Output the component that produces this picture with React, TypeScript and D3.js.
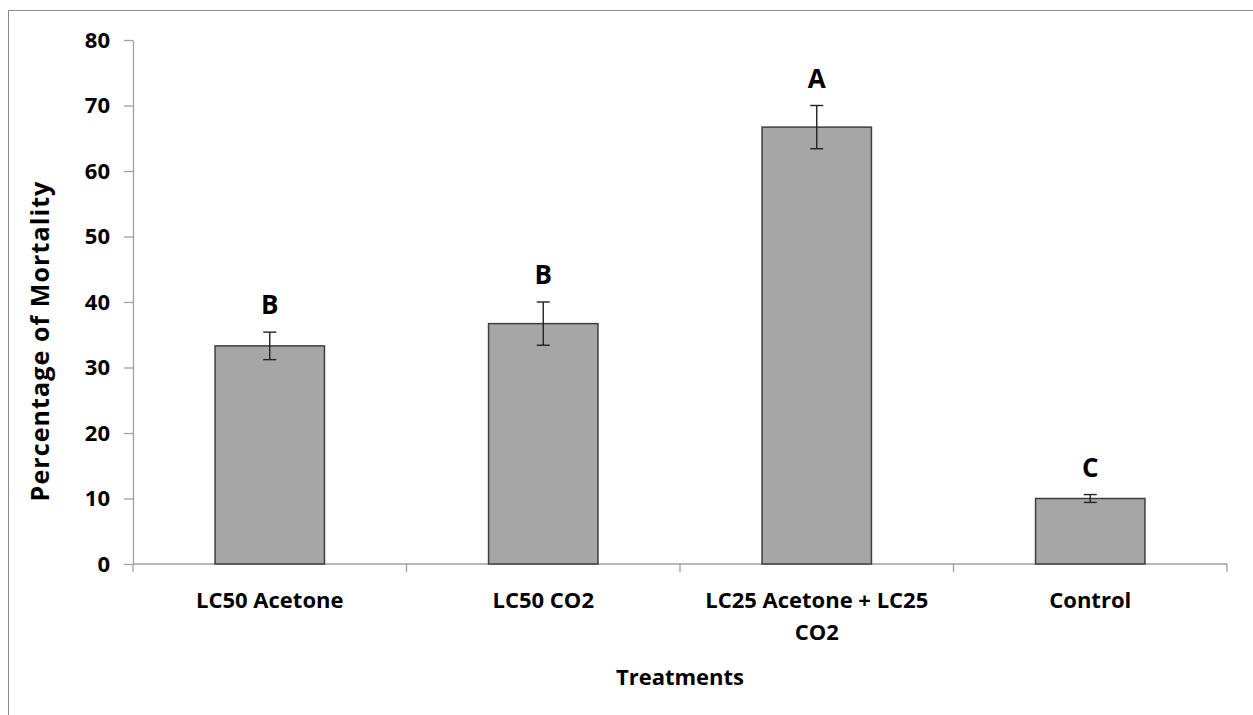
import React, { useEffect, useRef } from 'react';
import * as d3 from 'd3';

// values
const categories = ['LC50 Acetone', 'LC50 CO2', 'LC25 Acetone + LC25 CO2', 'Control'];
const categoryLines = [['LC50 Acetone'], ['LC50 CO2'], ['LC25 Acetone + LC25', 'CO2'], ['Control']];
const mortality = [33.3, 36.7, 66.7, 10.0];
const errors = [2.1, 3.3, 3.3, 0.6];
const letters = ['B', 'B', 'A', 'C'];
const yTicks = [0, 10, 20, 30, 40, 50, 60, 70, 80];

const W = 1253, H = 715;
const margin = { left: 133, right: 26, top: 40, bottom: 151 };
const FONT = '"Open Sans", "DejaVu Sans", sans-serif';

const App = () => {
    const ref = useRef<SVGGElement>(null);

    useEffect(() => {
        const g = d3.select(ref.current);
        g.selectAll('*').remove();

        const x = d3.scaleBand()
            .domain(categories)
            .range([margin.left, W - margin.right])
            .paddingInner(0.6)
            .paddingOuter(0.3);
        const y = d3.scaleLinear().domain([0, 80]).range([H - margin.bottom, margin.top]);
        const step = x.step();
        const axisColor = '#a0a0a0';

        // outer chart frame (only the top and left edges fall inside the picture)
        g.append('rect')
            .attr('x', 8.5).attr('y', 10.5)
            .attr('width', W + 20).attr('height', H + 20)
            .attr('fill', 'none').attr('stroke', '#8c8c8c').attr('stroke-width', 1);

        // y axis
        const yAxis = g.append('g')
            .attr('transform', `translate(${margin.left},0)`)
            .call(d3.axisLeft(y).tickValues(yTicks).tickSize(9).tickPadding(14).tickSizeOuter(0));
        yAxis.select('.domain').attr('stroke', axisColor).attr('stroke-width', 1.3);
        yAxis.selectAll('.tick line').attr('stroke', axisColor).attr('stroke-width', 1.3);
        yAxis.selectAll('.tick text')
            .attr('font-family', FONT).attr('font-size', 22).attr('font-weight', 700).attr('fill', '#000');

        // x axis, ticks on the category boundaries
        const x0 = y(0);
        g.append('line')
            .attr('x1', margin.left).attr('x2', W - margin.right)
            .attr('y1', x0).attr('y2', x0)
            .attr('stroke', axisColor).attr('stroke-width', 1.3);
        d3.range(categories.length + 1).forEach(i => {
            const bx = margin.left + i * step;
            g.append('line')
                .attr('x1', bx).attr('x2', bx).attr('y1', x0).attr('y2', x0 + 8)
                .attr('stroke', axisColor).attr('stroke-width', 1.3);
        });

        // bars
        g.selectAll('rect.bar')
            .data(categories)
            .enter().append('rect')
            .attr('class', 'bar')
            .attr('x', d => x(d))
            .attr('y', (d, i) => y(mortality[i]))
            .attr('width', x.bandwidth())
            .attr('height', (d, i) => y(0) - y(mortality[i]))
            .attr('fill', '#a6a6a6')
            .attr('stroke', '#3f3f3f')
            .attr('stroke-width', 1.5);

        // error bars + significance letters
        const cap = 6.5;
        categories.forEach((c, i) => {
            const cx = x(c) + x.bandwidth() / 2;
            const top = y(mortality[i] + errors[i]);
            const bot = y(mortality[i] - errors[i]);
            const eb = g.append('g').attr('stroke', '#222').attr('stroke-width', 1.4);
            eb.append('line').attr('x1', cx).attr('x2', cx).attr('y1', top).attr('y2', bot);
            eb.append('line').attr('x1', cx - cap).attr('x2', cx + cap).attr('y1', top).attr('y2', top);
            eb.append('line').attr('x1', cx - cap).attr('x2', cx + cap).attr('y1', bot).attr('y2', bot);

            g.append('text')
                .attr('x', cx).attr('y', top - 18)
                .attr('text-anchor', 'middle')
                .attr('font-family', FONT).attr('font-size', 26).attr('font-weight', 700)
                .text(letters[i]);
        });

        // category labels
        categories.forEach((c, i) => {
            const cx = x(c) + x.bandwidth() / 2;
            const t = g.append('text')
                .attr('text-anchor', 'middle')
                .attr('font-family', FONT).attr('font-size', 22).attr('font-weight', 700);
            categoryLines[i].forEach((line, j) => {
                t.append('tspan').attr('x', cx).attr('y', 608 + j * 31.5).text(line);
            });
        });

        // axis titles
        g.append('text')
            .attr('x', (margin.left + W - margin.right) / 2).attr('y', 685)
            .attr('text-anchor', 'middle')
            .attr('font-family', FONT).attr('font-size', 22).attr('font-weight', 700)
            .text('Treatments');
        g.append('text')
            .attr('transform', 'translate(49,341) rotate(-90)')
            .attr('text-anchor', 'middle')
            .attr('font-family', FONT).attr('font-size', 25).attr('font-weight', 700)
            .attr('letter-spacing', 1.1)
            .text('Percentage of Mortality');
    }, []);

    return (
        <svg width={W} height={H} style={{ position: 'absolute', left: 0, top: 0, background: '#fff' }}>
            <g ref={ref} />
        </svg>
    );
};

export default App;
